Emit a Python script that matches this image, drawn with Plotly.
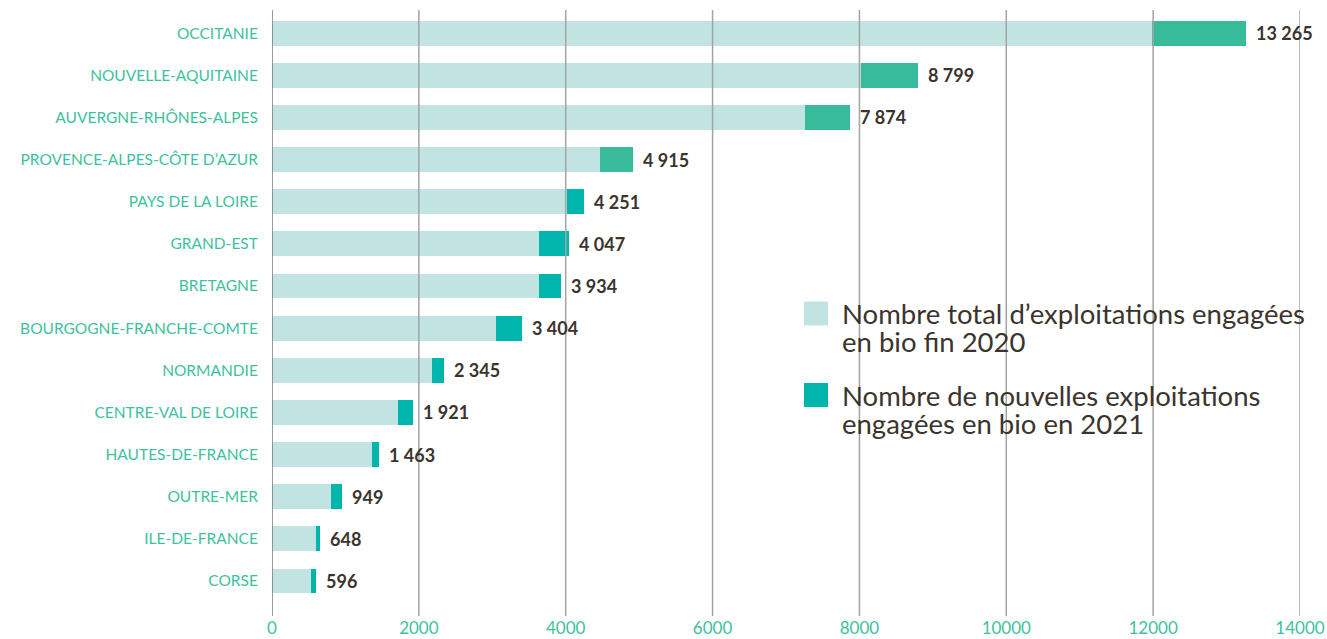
import plotly.graph_objects as go

regions = ["OCCITANIE", "NOUVELLE-AQUITAINE", "AUVERGNE-RHÔNES-ALPES",
           "PROVENCE-ALPES-CÔTE D’AZUR", "PAYS DE LA LOIRE", "GRAND-EST",
           "BRETAGNE", "BOURGOGNE-FRANCHE-COMTE", "NORMANDIE",
           "CENTRE-VAL DE LOIRE", "HAUTES-DE-FRANCE", "OUTRE-MER",
           "ILE-DE-FRANCE", "CORSE"]
total_2020 = [11980, 8020, 7260, 4470, 4020, 3640, 3640, 3050, 2180, 1720, 1360, 800, 600, 530]
new_2021 = [1285, 779, 614, 445, 231, 407, 294, 354, 165, 201, 103, 149, 48, 66]
totals_2021 = [13265, 8799, 7874, 4915, 4251, 4047, 3934, 3404, 2345, 1921, 1463, 949, 648, 596]
x_ticks = [0, 2000, 4000, 6000, 8000, 10000, 12000, 14000]

legend_2020 = ["Nombre total d’exploitations engagées", "en bio fin 2020"]
legend_2021 = ["Nombre de nouvelles exploitations", "engagées en bio en 2021"]

LIGHT = "#c1e4e2"
GREEN = "#38bb9b"
TEAL = "#00b5ab"
LABEL_GREEN = "#3ec19e"
DARK_TEXT = "#3b342e"
FONT = "Lato, 'Noto Sans', sans-serif"

new_colors = [GREEN if i < 4 else TEAL for i in range(len(regions))]

W, H = 1327, 639
L, R, T, B = 272, 1327 - 1300, 12, 639 - 616
PW, PH = W - L - R, H - T - B


def px(xpage):
    return (xpage - L) / PW


def py(ypage):
    return (H - B - ypage) / PH


fig = go.Figure()
fig.add_trace(go.Bar(y=regions, x=total_2020, orientation="h", name=" ".join(legend_2020),
                     marker=dict(color=LIGHT, line=dict(width=0)), showlegend=False,
                     hoverinfo="x+y"))
fig.add_trace(go.Bar(y=regions, x=new_2021, orientation="h", name=" ".join(legend_2021),
                     marker=dict(color=new_colors, line=dict(width=0)), showlegend=False,
                     hoverinfo="x+y"))

# value labels
for r, t in zip(regions, totals_2021):
    fig.add_annotation(x=t, y=r, xref="x", yref="y",
                       text=f"{t:,}".replace(",", " "), showarrow=False,
                       xanchor="left", xshift=8,
                       font=dict(family=FONT, size=18, color=DARK_TEXT, weight="bold"))

# gridlines drawn above bars
for v in x_ticks:
    fig.add_shape(type="line", xref="x", yref="paper", x0=v, x1=v, y0=0, y1=py(10),
                  line=dict(color="#7a7a7a" if v == 0 else "#a3a3a3", width=1.5),
                  layer="above")

# legend (manual)
for ytop, col, lines in [(301.5, LIGHT, legend_2020), (383, TEAL, legend_2021)]:
    fig.add_shape(type="rect", xref="paper", yref="paper",
                  x0=px(804), x1=px(828), y0=py(ytop + 24), y1=py(ytop),
                  fillcolor=col, line=dict(width=0), layer="above")
    for k, line in enumerate(lines):
        fig.add_annotation(xref="paper", yref="paper", x=px(840),
                           y=py(ytop + 12 + 28 * k), text=line, showarrow=False,
                           xanchor="left", yanchor="middle", align="left",
                           font=dict(family=FONT, size=27.5, color=DARK_TEXT))

fig.update_layout(
    barmode="stack",
    bargap=0.41,
    width=W, height=H,
    margin=dict(l=L, r=R, t=T, b=B, autoexpand=False),
    plot_bgcolor="white", paper_bgcolor="white",
    font=dict(family=FONT),
    xaxis=dict(range=[0, 14000], tickvals=x_ticks, tickformat="d", showgrid=False,
               zeroline=False, showline=False, ticks="", automargin=False,
               tickfont=dict(family=FONT, size=17, color=LABEL_GREEN)),
    yaxis=dict(categoryorder="array", categoryarray=regions, range=[13.83, -0.5],
               showgrid=False, zeroline=False, showline=False, automargin=False,
               ticks="outside", ticklen=10, tickcolor="rgba(0,0,0,0)",
               tickfont=dict(family=FONT, size=15.5, color=LABEL_GREEN)),
)

fig.write_html("out.html", config={"displayModeBar": False},
               post_script="document.body.style.margin='0';document.body.style.overflow='hidden';")
